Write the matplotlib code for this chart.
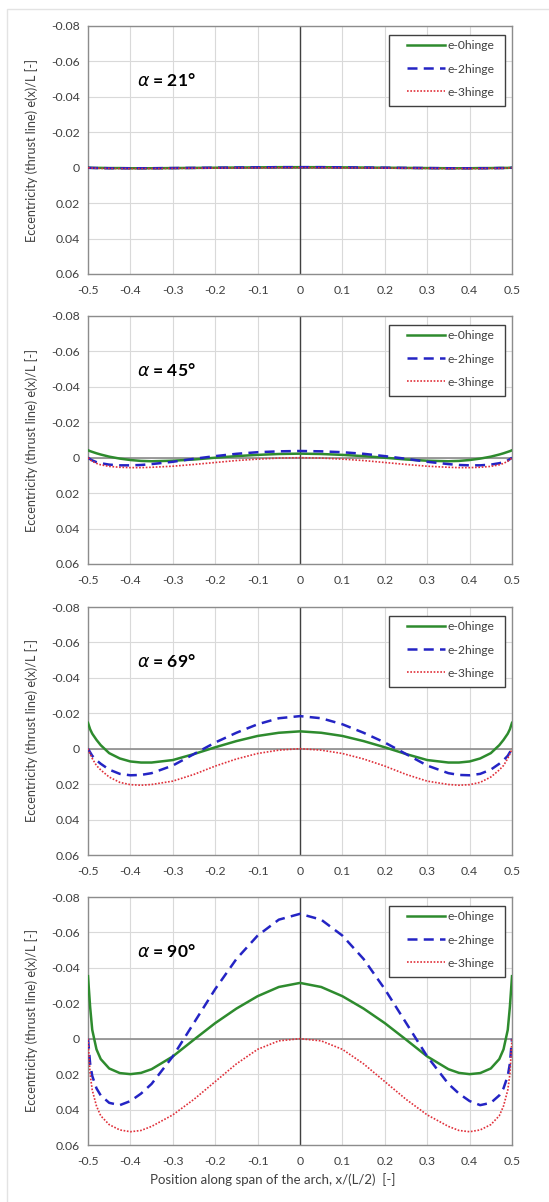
import matplotlib
matplotlib.use("Agg")
import matplotlib.pyplot as plt
from matplotlib.patches import Rectangle

plt.rcParams['font.family'] = ['Lato', 'DejaVu Sans']

# positions along the span, x/(L/2)
x = [-0.5, -0.495, -0.49, -0.48, -0.47, -0.45, -0.425, -0.4, -0.375, -0.35,
     -0.3, -0.25, -0.2, -0.15, -0.1, -0.05, 0.0,
     0.05, 0.1, 0.15, 0.2, 0.25, 0.3, 0.35, 0.375, 0.4, 0.425, 0.45, 0.47,
     0.48, 0.49, 0.495, 0.5]

alphas = [21, 45, 69, 90]
labels = ['e-0hinge', 'e-2hinge', 'e-3hinge']

# alpha = 21 deg
e0_21 = [0.0, 0.0, 0.0001, 0.0001, 0.0001, 0.0002, 0.0002, 0.0003, 0.0003, 0.0003,
         0.0002, 0.0001, 0.0, -0.0001, -0.0002, -0.0003, -0.0003,
         -0.0003, -0.0002, -0.0001, 0.0, 0.0001, 0.0002, 0.0003, 0.0003, 0.0003,
         0.0002, 0.0002, 0.0001, 0.0001, 0.0001, 0.0, 0.0]
e2_21 = [0.0, 0.0001, 0.0001, 0.0002, 0.0002, 0.0003, 0.0003, 0.0003, 0.0003, 0.0003,
         0.0002, 0.0001, 0.0, -0.0001, -0.0002, -0.0003, -0.0003,
         -0.0003, -0.0002, -0.0001, 0.0, 0.0001, 0.0002, 0.0003, 0.0003, 0.0003,
         0.0003, 0.0003, 0.0002, 0.0002, 0.0001, 0.0001, 0.0]
e3_21 = [0.0, 0.0001, 0.0002, 0.0003, 0.0004, 0.0004, 0.0005, 0.0005, 0.0005, 0.0005,
         0.0004, 0.0003, 0.0002, 0.0001, 0.0001, 0.0, 0.0,
         0.0, 0.0001, 0.0001, 0.0002, 0.0003, 0.0004, 0.0005, 0.0005, 0.0005,
         0.0005, 0.0004, 0.0004, 0.0003, 0.0002, 0.0001, 0.0]

# alpha = 45 deg
e0_45 = [-0.0042, -0.0037, -0.0033, -0.0025, -0.0018, -0.0006, 0.0005, 0.0013, 0.0018, 0.002,
         0.0017, 0.001, 0.0, -0.0009, -0.0016, -0.0021, -0.0023,
         -0.0021, -0.0016, -0.0009, 0.0, 0.001, 0.0017, 0.002, 0.0018, 0.0013,
         0.0005, -0.0006, -0.0018, -0.0025, -0.0033, -0.0037, -0.0042]
e2_45 = [0.0, 0.0008, 0.0015, 0.0025, 0.0031, 0.0039, 0.0043, 0.0043, 0.0041, 0.0036,
         0.0023, 0.0006, -0.0009, -0.0022, -0.0031, -0.0036, -0.0038,
         -0.0036, -0.0031, -0.0022, -0.0009, 0.0006, 0.0023, 0.0036, 0.0041, 0.0043,
         0.0043, 0.0039, 0.0031, 0.0025, 0.0015, 0.0008, 0.0]
e3_45 = [0.0, 0.0012, 0.002, 0.0032, 0.004, 0.0049, 0.0054, 0.0056, 0.0056, 0.0054,
         0.0048, 0.0038, 0.0027, 0.0016, 0.0008, 0.0002, 0.0,
         0.0002, 0.0008, 0.0016, 0.0027, 0.0038, 0.0048, 0.0054, 0.0056, 0.0056,
         0.0054, 0.0049, 0.004, 0.0032, 0.002, 0.0012, 0.0]

# alpha = 69 deg
e0_69 = [-0.0146, -0.011, -0.0085, -0.005, -0.002, 0.0025, 0.0055, 0.0072, 0.0078, 0.0078,
         0.0064, 0.003, -0.0008, -0.0043, -0.0072, -0.009, -0.0098,
         -0.009, -0.0072, -0.0043, -0.0008, 0.003, 0.0064, 0.0078, 0.0078, 0.0072,
         0.0055, 0.0025, -0.002, -0.005, -0.0085, -0.011, -0.0146]
e2_69 = [0.0, 0.002, 0.004, 0.0065, 0.0085, 0.0118, 0.0142, 0.015, 0.0148, 0.0138,
         0.0095, 0.003, -0.0035, -0.009, -0.0138, -0.0172, -0.0184,
         -0.0172, -0.0138, -0.009, -0.0035, 0.003, 0.0095, 0.0138, 0.0148, 0.015,
         0.0142, 0.0118, 0.0085, 0.0065, 0.004, 0.002, 0.0]
e3_69 = [0.0, 0.003, 0.0055, 0.0095, 0.012, 0.016, 0.019, 0.0203, 0.0206, 0.0202,
         0.0183, 0.0145, 0.0098, 0.0058, 0.0027, 0.0008, 0.0,
         0.0008, 0.0027, 0.0058, 0.0098, 0.0145, 0.0183, 0.0202, 0.0206, 0.0203,
         0.019, 0.016, 0.012, 0.0095, 0.0055, 0.003, 0.0]

# alpha = 90 deg
e0_90 = [-0.0353, -0.018, -0.005, 0.006, 0.0115, 0.0168, 0.0194, 0.02, 0.0193, 0.0172,
         0.01, 0.0005, -0.0088, -0.017, -0.024, -0.0292, -0.0315,
         -0.0292, -0.024, -0.017, -0.0088, 0.0005, 0.01, 0.0172, 0.0193, 0.02,
         0.0194, 0.0168, 0.0115, 0.006, -0.005, -0.018, -0.0353]
e2_90 = [0.0, 0.014, 0.021, 0.028, 0.032, 0.0362, 0.0375, 0.0352, 0.031, 0.0255,
         0.01, -0.009, -0.028, -0.045, -0.0582, -0.0672, -0.0705,
         -0.0672, -0.0582, -0.045, -0.028, -0.009, 0.01, 0.0255, 0.031, 0.0352,
         0.0375, 0.0362, 0.032, 0.028, 0.021, 0.014, 0.0]
e3_90 = [0.0, 0.02, 0.029, 0.038, 0.0435, 0.0485, 0.0515, 0.0525, 0.0518, 0.0495,
         0.043, 0.0342, 0.0242, 0.0142, 0.006, 0.0012, 0.0,
         0.0012, 0.006, 0.0142, 0.0242, 0.0342, 0.043, 0.0495, 0.0518, 0.0525,
         0.0515, 0.0485, 0.0435, 0.038, 0.029, 0.02, 0.0]

series = [
    [e0_21, e2_21, e3_21],
    [e0_45, e2_45, e3_45],
    [e0_69, e2_69, e3_69],
    [e0_90, e2_90, e3_90],
]

xticks = [-0.5, -0.4, -0.3, -0.2, -0.1, 0, 0.1, 0.2, 0.3, 0.4, 0.5]
yticks = [-0.08, -0.06, -0.04, -0.02, 0, 0.02, 0.04, 0.06]

styles = [
    dict(color='#2e8b2e', ls='-', lw=1.8),
    dict(color='#2424c4', ls=(0, (4, 2.5)), lw=1.8),
    dict(color='#e0303a', ls=(0, (1, 1)), lw=1.2),
]

W, H = 549, 1202
fig = plt.figure(figsize=(W / 100, H / 100), dpi=100)
# faint outer frame of the original sheet
fig.patches.append(Rectangle((7 / W, -0.01), 1.0, 1 - 9 / H + 0.01, transform=fig.transFigure,
                             fill=False, edgecolor='#e3e3e3', lw=1.0))

tops = [26, 316, 607, 897]  # pixel top of each plot area

for top, alpha, ser in zip(tops, alphas, series):
    ax = fig.add_axes([88 / W, 1 - (top + 248) / H, 424 / W, 248 / H])
    ax.set_xlim(-0.5, 0.5)
    ax.set_ylim(0.06, -0.08)
    ax.set_xticks(xticks)
    ax.set_xticklabels(['%g' % t for t in xticks])
    ax.set_yticks(yticks)
    ax.set_yticklabels(['%g' % t for t in yticks])
    ax.grid(True, color='#d9d9d9', lw=0.8)
    ax.set_axisbelow(True)
    ax.axhline(0, color='#8c8c8c', lw=1.2, zorder=1)
    ax.axvline(0, color='#404040', lw=1.0, zorder=1)
    for sp in ax.spines.values():
        sp.set_color('#8c8c8c')
        sp.set_linewidth(1.0)
    ax.tick_params(length=0, labelsize=8.8, colors='#404040')
    ax.tick_params(axis='x', pad=8)
    ax.tick_params(axis='y', pad=6)

    for vals, lab, st in zip(ser, labels, styles):
        ax.plot(x, vals, label=lab, zorder=3, **st)

    ax.text(-0.385, -0.0495, r'$\alpha$' + ' = %d°' % alpha, fontsize=12.5,
            fontweight='bold', va='center', ha='left', color='black')
    ax.set_ylabel('Eccentricity (thrust line) e(x)/L [-]', fontsize=9.1,
                  color='#404040', labelpad=9)

    # legend box drawn like the spreadsheet one: wide left margin
    ax.add_patch(Rectangle(((389 - 88) / 424, 1 - 80 / 248), 116 / 424, 71 / 248,
                           transform=ax.transAxes, facecolor='white',
                           edgecolor='#404040', lw=1.0, zorder=4))
    leg = ax.legend(loc='upper right', fontsize=8.7, frameon=False,
                    handlelength=3.1, handletextpad=0.25,
                    borderpad=0.45, labelspacing=1.0, borderaxespad=0,
                    bbox_to_anchor=(1 - 12 / 424, 1 - 9 / 248))
    leg.set_zorder(5)
    for t in leg.get_texts():
        t.set_color('#404040')

fig.text(273 / W, 1 - 1180 / H, 'Position along span of the arch, x/(L/2)  [-]',
         fontsize=9.5, color='#404040', ha='center', va='center')

fig.savefig('out.png', dpi=100)
